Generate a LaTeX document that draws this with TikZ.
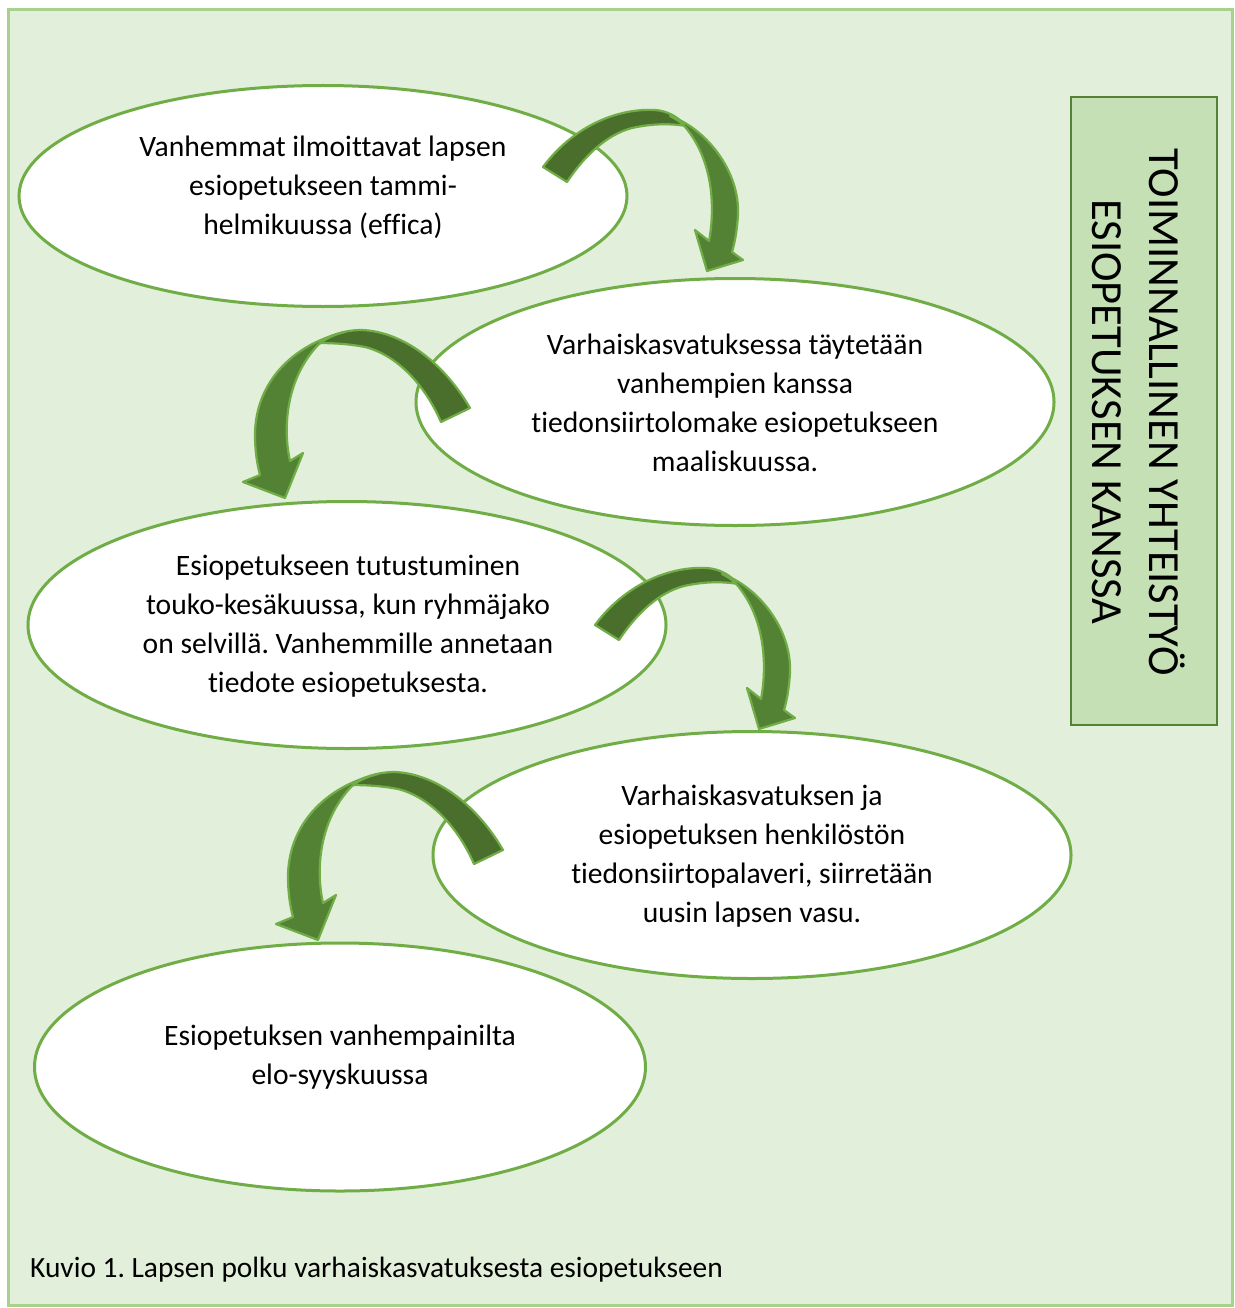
\documentclass[tikz,border=0pt]{standalone}
\usepackage{fontspec}
\setmainfont{Carlito}[Ligatures=CommonOff]
\usetikzlibrary{shapes.geometric}

\definecolor{pagegreen}{HTML}{E2EFDA}
\definecolor{pageedge}{HTML}{A9D18E}
\definecolor{ringgreen}{HTML}{70AD47}
\definecolor{boxgreen}{HTML}{C5E0B4}
\definecolor{boxedge}{HTML}{538135}
\definecolor{backband}{HTML}{4A6F2C}
\definecolor{frontband}{HTML}{548235}

\tikzstyle{vaihe}=[ellipse, draw=ringgreen, fill=white,
                   line width=3, inner sep=0]
\tikzstyle{vaiheteksti}=[align=center, inner sep=0,
                         font=\fontsize{29.6}{39}\selectfont]
\tikzstyle{takaosa}=[fill=backband, draw=ringgreen, line width=2.2, line join=round]
\tikzstyle{etuosa}=[fill=frontband, draw=ringgreen, line width=2.2, line join=round]

\frenchspacing
\begin{document}
\begin{tikzpicture}[x=1pt, y=-1pt]
\useasboundingbox (0,0) rectangle (1234,1308);
%%%%%%%%%%%%%%%%%%%%%%%%%%%%%%
% nodes

\draw[pageedge, fill=pagegreen, line width=3] (8,10) rectangle (1232,1305);

\node (ilmoitus) at (323,196) [vaihe, minimum width=608, minimum height=221] {};
\node (ilmoitus_t) at (323,187) [vaiheteksti] {Vanhemmat ilmoittavat lapsen\\esiopetukseen tammi-\\helmikuussa (effica)};

\node (lomake) at (735,402) [vaihe, minimum width=638, minimum height=247] {};
\node (lomake_t) at (735,403) [vaiheteksti] {Varhaiskasvatuksessa täytetään\\vanhempien kanssa\\tiedonsiirtolomake esiopetukseen\\maaliskuussa.};

\node (tutustuminen) at (347,625) [vaihe, minimum width=638, minimum height=247] {};
\node (tutustuminen_t) at (348,626) [vaiheteksti] {Esiopetukseen tutustuminen\\touko-kesäkuussa, kun ryhmäjako\\on selvillä. Vanhemmille annetaan\\tiedote esiopetuksesta.};

\node (palaveri) at (752,855) [vaihe, minimum width=638, minimum height=247] {};
\node (palaveri_t) at (752,856) [vaiheteksti] {Varhaiskasvatuksen ja\\esiopetuksen henkilöstön\\tiedonsiirtopalaveri, siirretään\\uusin lapsen vasu.};

\node (ilta) at (340,1067) [vaihe, minimum width=611, minimum height=248] {};
\node (ilta_t) at (340,1057) [vaiheteksti] {Esiopetuksen vanhempainilta\\elo-syyskuussa};

\node (yhteistyo) at (1144,411) [rectangle, draw=boxedge, fill=boxgreen, line width=2.5,
      minimum width=146, minimum height=628, inner sep=0] {};
\node (yhteistyo_t) at (1139,412) [rotate=-90, align=center, inner sep=0,
      font=\fontsize{44.5}{57}\selectfont] {TOIMINNALLINEN YHTEISTYÖ\\ESIOPETUKSEN KANSSA};

\node (kuvio) at (30,1270) [anchor=west, inner sep=0, font=\fontsize{29.4}{39}\selectfont]
      {Kuvio 1. Lapsen polku varhaiskasvatuksesta esiopetukseen};

%%%%%%%%%%%%%%%%%%%%%%%%%%%%%%
% links

% ilmoitus -> lomake
\filldraw[takaosa] (543,167) .. controls (572,128) and (615,108) .. (655,110) .. controls (668,111) and (678,117) .. (686,126) .. controls (668,123) and (650,124) .. (632,128) .. controls (605,135) and (583,158) .. (567,182) -- cycle;
\filldraw[etuosa] (670,116) .. controls (705,128) and (740,170) .. (738,215) .. controls (737,230) and (735,242) .. (732,252) -- (743,260) -- (707,271) -- (695,230) -- (709,241) .. controls (714,215) and (716,165) .. (686,128) .. controls (681,122) and (676,119) .. (670,116) -- cycle;

% lomake -> tutustuminen
\filldraw[takaosa] (470,408) .. controls (445,365) and (405,332) .. (362,330) .. controls (345,330) and (330,335) .. (318,343) .. controls (333,343) and (350,344) .. (365,347) .. controls (397,355) and (425,385) .. (441,422) -- cycle;
\filldraw[etuosa] (345,332) .. controls (290,345) and (255,385) .. (255,435) .. controls (255,450) and (257,464) .. (260,475) -- (243,482) -- (285,498) -- (303,453) -- (290,461) .. controls (283,430) and (285,380) .. (318,345) .. controls (326,338) and (336,334) .. (345,332) -- cycle;

% tutustuminen -> palaveri
\begin{scope}[shift={(52,458)}]
\filldraw[takaosa] (543,167) .. controls (572,128) and (615,108) .. (655,110) .. controls (668,111) and (678,117) .. (686,126) .. controls (668,123) and (650,124) .. (632,128) .. controls (605,135) and (583,158) .. (567,182) -- cycle;
\filldraw[etuosa] (670,116) .. controls (705,128) and (740,170) .. (738,215) .. controls (737,230) and (735,242) .. (732,252) -- (743,260) -- (707,271) -- (695,230) -- (709,241) .. controls (714,215) and (716,165) .. (686,128) .. controls (681,122) and (676,119) .. (670,116) -- cycle;
\end{scope}

% palaveri -> ilta
\begin{scope}[shift={(33,442)}]
\filldraw[takaosa] (470,408) .. controls (445,365) and (405,332) .. (362,330) .. controls (345,330) and (330,335) .. (318,343) .. controls (333,343) and (350,344) .. (365,347) .. controls (397,355) and (425,385) .. (441,422) -- cycle;
\filldraw[etuosa] (345,332) .. controls (290,345) and (255,385) .. (255,435) .. controls (255,450) and (257,464) .. (260,475) -- (243,482) -- (285,498) -- (303,453) -- (290,461) .. controls (283,430) and (285,380) .. (318,345) .. controls (326,338) and (336,334) .. (345,332) -- cycle;
\end{scope}

\end{tikzpicture}
\end{document}
